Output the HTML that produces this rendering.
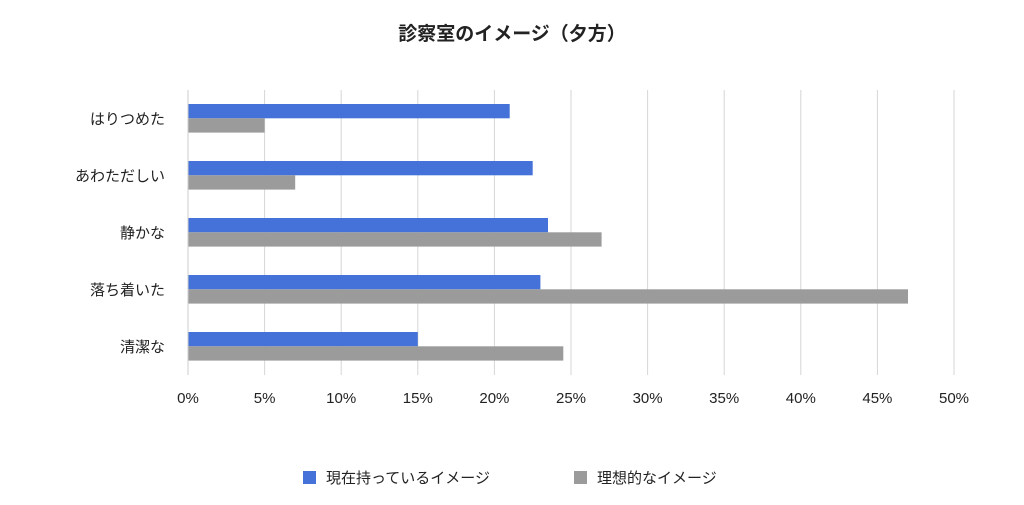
<!DOCTYPE html>
<html><head><meta charset="utf-8"><style>
html,body{margin:0;padding:0;background:#fff;}
svg text{font-family:"Liberation Sans","Noto Sans CJK JP",sans-serif;fill:#222;}
</style></head><body>
<svg width="1024" height="500" xmlns="http://www.w3.org/2000/svg">
<rect width="1024" height="500" fill="#fff"/>
<text x="512" y="40" text-anchor="middle" font-size="19" font-weight="bold">診察室のイメージ（夕方）</text>
<g stroke="#d6d6d6" stroke-width="1">
<line x1="264.6" y1="90" x2="264.6" y2="375"/>
<line x1="341.2" y1="90" x2="341.2" y2="375"/>
<line x1="417.8" y1="90" x2="417.8" y2="375"/>
<line x1="494.4" y1="90" x2="494.4" y2="375"/>
<line x1="571" y1="90" x2="571" y2="375"/>
<line x1="647.6" y1="90" x2="647.6" y2="375"/>
<line x1="724.2" y1="90" x2="724.2" y2="375"/>
<line x1="800.8" y1="90" x2="800.8" y2="375"/>
<line x1="877.4" y1="90" x2="877.4" y2="375"/>
<line x1="954" y1="90" x2="954" y2="375"/>
</g>
<g fill="#4472d9">
<rect x="188" y="104" width="321.7" height="14.3"/>
<rect x="188" y="161" width="344.7" height="14.3"/>
<rect x="188" y="218" width="360" height="14.3"/>
<rect x="188" y="275" width="352.4" height="14.3"/>
<rect x="188" y="332" width="229.8" height="14.3"/>
</g>
<g fill="#9b9b9b">
<rect x="188" y="118.3" width="76.6" height="14.3"/>
<rect x="188" y="175.3" width="107.2" height="14.3"/>
<rect x="188" y="232.3" width="413.6" height="14.3"/>
<rect x="188" y="289.3" width="720" height="14.3"/>
<rect x="188" y="346.3" width="375.3" height="14.3"/>
</g>
<line x1="188" y1="90" x2="188" y2="375" stroke="#ccc"/>
<g font-size="15" text-anchor="end">
<text x="165" y="124">はりつめた</text>
<text x="165" y="181">あわただしい</text>
<text x="165" y="238">静かな</text>
<text x="165" y="295">落ち着いた</text>
<text x="165" y="352">清潔な</text>
</g>
<g font-size="15" text-anchor="middle">
<text x="188" y="403">0%</text>
<text x="264.6" y="403">5%</text>
<text x="341.2" y="403">10%</text>
<text x="417.8" y="403">15%</text>
<text x="494.4" y="403">20%</text>
<text x="571" y="403">25%</text>
<text x="647.6" y="403">30%</text>
<text x="724.2" y="403">35%</text>
<text x="800.8" y="403">40%</text>
<text x="877.4" y="403">45%</text>
<text x="954" y="403">50%</text>
</g>
<rect x="303" y="471" width="13" height="13" fill="#4472d9"/>
<text x="326" y="483" font-size="15">現在持っているイメージ</text>
<rect x="574" y="471" width="13" height="13" fill="#9b9b9b"/>
<text x="597" y="483" font-size="15">理想的なイメージ</text>
</svg>
</body></html>
